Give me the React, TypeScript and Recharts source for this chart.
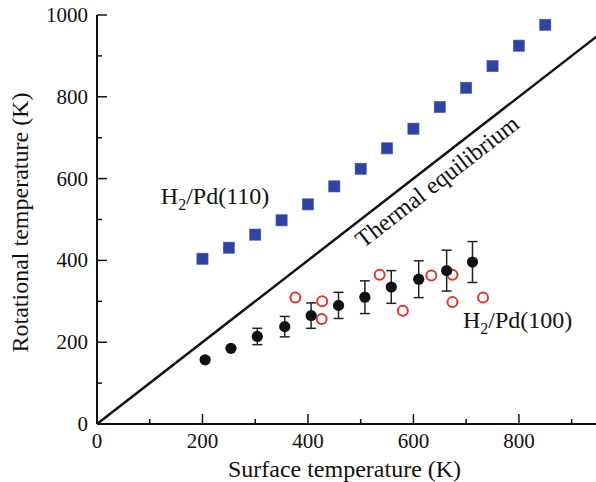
import { ComposedChart, Scatter, XAxis, YAxis, ErrorBar, ReferenceLine, ReferenceDot } from 'recharts'

// H2/Pd(110) squares
const pd110X = [200, 250, 300, 350, 400, 450, 500, 550, 600, 650, 700, 750, 800, 850]
const pd110Y = [404, 431, 463, 498, 537, 581, 624, 674, 722, 775, 822, 875, 925, 976]

// H2/Pd(100) filled circles with error bars
const pd100X = [205, 254, 304, 356, 406, 458, 508, 558, 610, 663, 712]
const pd100Y = [157, 185, 214, 238, 265, 290, 310, 335, 354, 375, 396]
const pd100Err = [0, 0, 20, 25, 31, 32, 40, 40, 45, 50, 50]

// H2/Pd(100) open circles
const openX = [376, 427, 426, 536, 580, 634, 674, 674, 732]
const openY = [309, 300, 257, 365, 277, 363, 365, 298, 309]

const equilibrium = [0, 950]
const xTicks = [0, 100, 200, 300, 400, 500, 600, 700, 800, 900]
const yTicks = [0, 100, 200, 300, 400, 500, 600, 700, 800, 900, 1000]

const serif = { fontFamily: "'Liberation Serif', 'Times New Roman', Times, 'DejaVu Serif', serif" }

const squares = pd110X.map((x, i) => ({ x, y: pd110Y[i] }))
const filled = pd100X.map((x, i) => ({ x, y: pd100Y[i], err: pd100Err[i] }))
const open = openX.map((x, i) => ({ x, y: openY[i] }))

const isMajor = (v: number) => v % 200 === 0

const BottomTick = ({ x, y, payload }: any) => (
  <g>
    <line x1={x} y1={y} x2={x} y2={y - (isMajor(payload.value) ? 10 : 5)} stroke="#111" strokeWidth={1.5} />
    {isMajor(payload.value) && (
      <text x={x} y={y + 24} textAnchor="middle" style={serif} fontSize={21} fill="#111">{payload.value}</text>
    )}
  </g>
)

const LeftTick = ({ x, y, payload }: any) => (
  <g>
    <line x1={x} y1={y} x2={x + (isMajor(payload.value) ? 10 : 5)} y2={y} stroke="#111" strokeWidth={1.5} />
    {isMajor(payload.value) && (
      <text x={x - 9} y={y + 7} textAnchor="end" style={serif} fontSize={21} fill="#111">{payload.value}</text>
    )}
  </g>
)

const TopTick = ({ x, y, payload }: any) => (
  <line x1={x} y1={y} x2={x} y2={y + (isMajor(payload.value) ? 10 : 5)} stroke="#111" strokeWidth={1.5} />
)

const RightTick = ({ x, y, payload }: any) => (
  <line x1={x} y1={y} x2={x - (isMajor(payload.value) ? 10 : 5)} y2={y} stroke="#111" strokeWidth={1.5} />
)

const Square = ({ cx, cy }: any) => (
  <rect x={cx - 5.6} y={cy - 5.6} width={11.2} height={11.2} fill="#2f44a2" stroke="#4a5db0" strokeWidth={0.6} />
)
const Dot = ({ cx, cy }: any) => <circle cx={cx} cy={cy} r={5.6} fill="#111" />
const Ring = ({ cx, cy }: any) => <circle cx={cx} cy={cy} r={5} fill="none" stroke="#e3342a" strokeWidth={2} />

const Species = ({ cx, cy, face }: any) => (
  <text x={cx} y={cy} style={serif} fontSize={24} fill="#111">
    H<tspan dy={6} fontSize={16}>2</tspan>
    <tspan dy={-6}>/Pd({face})</tspan>
  </text>
)

const XLabel = ({ viewBox }: any) => (
  <text x={viewBox.x + viewBox.width / 2 - 3} y={viewBox.y + 53} textAnchor="middle" style={serif} fontSize={24} fill="#111">
    Surface temperature (K)
  </text>
)

const YLabel = ({ viewBox }: any) => {
  const cy = viewBox.y + viewBox.height / 2 + 3
  return (
    <text x={28} y={cy} textAnchor="middle" transform={`rotate(-90, 28, ${cy})`} style={serif} fontSize={24} fill="#111">
      Rotational temperature (K)
    </text>
  )
}

export default function App() {
  return (
    <div style={{ width: 596, height: 482, overflow: 'hidden', background: '#fff' }}>
      <style>{'body{margin:0;overflow:hidden}'}</style>
      <ComposedChart width={600} height={482} margin={{ top: 15, right: 2, left: 0, bottom: 0 }}>
        <XAxis
          xAxisId="b" type="number" dataKey="x" domain={[0, 950]} ticks={xTicks} allowDataOverflow
          height={58} tickSize={0} tickMargin={0} tickLine={false} tick={<BottomTick />}
          axisLine={{ stroke: '#111', strokeWidth: 2 }} label={<XLabel />}
        />
        <XAxis
          xAxisId="t" orientation="top" type="number" dataKey="x" domain={[0, 950]} ticks={xTicks} allowDataOverflow
          height={0} tickSize={0} tickMargin={0} tickLine={false} tick={<TopTick />}
          axisLine={{ stroke: '#111', strokeWidth: 2 }}
        />
        <YAxis
          yAxisId="l" type="number" dataKey="y" domain={[0, 1000]} ticks={yTicks} allowDataOverflow
          width={97} tickSize={0} tickMargin={0} tickLine={false} tick={<LeftTick />}
          axisLine={{ stroke: '#111', strokeWidth: 2 }} label={<YLabel />}
        />
        <YAxis
          yAxisId="r" orientation="right" type="number" dataKey="y" domain={[0, 1000]} ticks={yTicks} allowDataOverflow
          width={0} tickSize={0} tickMargin={0} tickLine={false} tick={<RightTick />}
          axisLine={{ stroke: '#111', strokeWidth: 2 }}
        />

        <ReferenceLine
          xAxisId="b" yAxisId="l"
          segment={[{ x: equilibrium[0], y: equilibrium[0] }, { x: equilibrium[1], y: equilibrium[1] }]}
          stroke="#111" strokeWidth={2.5}
        />

        <Scatter xAxisId="t" yAxisId="r" data={[]} isAnimationActive={false} />
        <Scatter xAxisId="b" yAxisId="l" data={squares} shape={<Square />} isAnimationActive={false} />
        <Scatter xAxisId="b" yAxisId="l" data={open} shape={<Ring />} isAnimationActive={false} />
        <Scatter xAxisId="b" yAxisId="l" data={filled} shape={<Dot />} isAnimationActive={false}>
          <ErrorBar dataKey="err" direction="y" width={5} stroke="#222" strokeWidth={1.5} />
        </Scatter>

        <ReferenceDot xAxisId="b" yAxisId="l" x={121} y={537} r={0} shape={(p: any) => <Species {...p} face="110" />} />
        <ReferenceDot xAxisId="b" yAxisId="l" x={694} y={235} r={0} shape={(p: any) => <Species {...p} face="100" />} />
        <ReferenceDot
          xAxisId="b" yAxisId="l" x={645} y={593} r={0}
          shape={(p: any) => (
            <text
              x={p.cx} y={p.cy} textAnchor="middle" dominantBaseline="central"
              transform={`rotate(-37.8, ${p.cx}, ${p.cy})`} style={serif} fontSize={24} fill="#111"
            >
              Thermal equilibrium
            </text>
          )}
        />
      </ComposedChart>
    </div>
  )
}
